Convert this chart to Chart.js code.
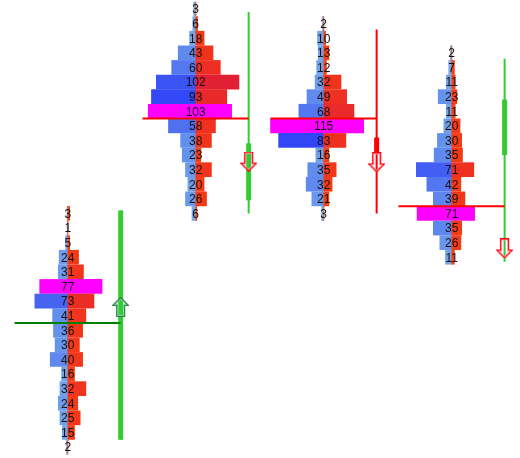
<!DOCTYPE html>
<html>
<head>
<meta charset="utf-8">
<script src="https://cdn.jsdelivr.net/npm/chart.js@4.4.1/dist/chart.umd.min.js"></script>
<style>
  body { margin: 0; background: #fff; }
  #wrap { width: 520px; height: 458px; }
</style>
</head>
<body>
<div id="wrap"><canvas id="profile" width="520" height="458"></canvas></div>
<script>
// price of the first (top) row of every cluster, one row = 1 price step
const topPrice = [46, 60, 59, 57];

// total volume per row (the printed numbers), top row first
const totals = [
  [3, 1, 5, 24, 31, 77, 73, 41, 36, 30, 40, 16, 32, 24, 25, 15, 2],
  [3, 6, 18, 43, 60, 102, 93, 103, 58, 38, 23, 32, 20, 26, 6],
  [2, 10, 13, 12, 32, 49, 68, 115, 83, 16, 35, 32, 21, 3],
  [2, 7, 11, 23, 11, 20, 30, 35, 71, 42, 39, 71, 35, 26, 11]
];

// bid part of each row (blue, left side); ask = total - bid
const bids = [
  [0, 0, 2, 10, 11, 34, 40, 18, 17, 15, 21, 7, 9, 11, 9, 6, 1],
  [2, 3, 7, 21, 29, 48, 54, 58, 33, 18, 16, 12, 9, 12, 4],
  [1, 7, 6, 8, 10, 20, 30, 65, 55, 9, 19, 21, 14, 2],
  [1, 3, 6, 16, 6, 9, 17, 21, 43, 30, 22, 42, 22, 14, 7]
];

// point of control row (magenta)
const pocRow = [5, 7, 7, 11];

// horizontal level line per cluster
const levelPrice = [38.5, 52.5, 52.5, 46.5];

// candles
const candleOpen = [30.5, 46.9, 51.2, 50.0];
const candleHigh = [46.2, 59.8, 58.6, 56.6];
const candleLow = [30.5, 46.0, 46.0, 42.7];
const candleClose = [46.2, 50.8, 50.1, 53.8];

// arrows
const arrowPrice = [39.6, 49.55, 49.5, 43.6];
const arrowDir = ["up", "down", "down", "down"];

//layout in x units (1 unit = 1 contract of width)
const STEP = 158;
const CANDLE_OFF = 66;
const LEVEL_START = -65;

//colours
function lerp(a, b, t) {
  return "rgb(" + a.map((v, i) => Math.round(v + (b[i] - v) * t)).join(",") + ")";
}
let maxBid = 0, maxAsk = 0;
totals.forEach((rows, c) => rows.forEach((t, r) => {
  if (r === pocRow[c]) return;
  maxBid = Math.max(maxBid, bids[c][r]);
  maxAsk = Math.max(maxAsk, t - bids[c][r]);
}));
const blueOf = (v) => lerp([122, 178, 232], [50, 70, 246], Math.min(1, v / maxBid));
const redOf = (v) => lerp([250, 66, 12], [226, 32, 52], Math.min(1, v / maxAsk));

//bars
const bidData = [], askData = [], bidColors = [], askColors = [];
totals.forEach((rows, c) => {
  const cx = c * STEP;
  rows.forEach((t, r) => {
    const price = topPrice[c] - r;
    const b = bids[c][r];
    const a = t - b;
    bidData.push({ y: price, x: [cx - b, cx] });
    askData.push({ y: price, x: [cx, cx + a] });
    const poc = r === pocRow[c];
    bidColors.push(poc ? "#ff00ff" : blueOf(b));
    askColors.push(poc ? "#ff00ff" : redOf(a));
  });
});

//arrow images
function makeArrow(dir, outer, inner) {
  const cv = document.createElement("canvas");
  cv.width = 17;
  cv.height = 20;
  const g = cv.getContext("2d");
  const pts = [[4.5, 0.5], [12.5, 0.5], [12.5, 11.5], [16.5, 11.5], [8.5, 19.5], [0.5, 11.5], [4.5, 11.5]];
  g.beginPath();
  pts.forEach(([x, y], i) => {
    const yy = dir === "up" ? 20 - y : y;
    if (i === 0) g.moveTo(x, yy); else g.lineTo(x, yy);
  });
  g.closePath();
  g.save();
  g.clip();
  g.strokeStyle = inner;
  g.lineWidth = 3;
  g.stroke();
  g.restore();
  g.strokeStyle = outer;
  g.lineWidth = 1.2;
  g.stroke();
  return cv;
}
const upArrow = makeArrow("up", "#2e7d32", "#7fd3c4");
const downArrow = makeArrow("down", "#ff0000", "#ff9ec4");

const datasets = [
  {
    type: "bar", indexAxis: "y", data: bidData, backgroundColor: bidColors,
    grouped: false, barThickness: 14, borderWidth: 0, order: 4
  },
  {
    type: "bar", indexAxis: "y", data: askData, backgroundColor: askColors,
    grouped: false, barThickness: 14, borderWidth: 0, order: 4
  }
];

topPrice.forEach((p, c) => {
  const cx = c * STEP + CANDLE_OFF;
  const up = candleClose[c] >= candleOpen[c];
  const col = up ? "#32cd32" : "#ff0000";
  // wick
  datasets.push({
    type: "line", data: [{ x: cx, y: candleHigh[c] }, { x: cx, y: candleLow[c] }],
    borderColor: col, borderWidth: 2, pointRadius: 0, order: 3
  });
  // body
  datasets.push({
    type: "line", data: [{ x: cx, y: candleOpen[c] }, { x: cx, y: candleClose[c] }],
    borderColor: col, borderWidth: 5, pointRadius: 0, order: 3
  });
  // level line
  datasets.push({
    type: "line",
    data: [{ x: c * STEP + LEVEL_START, y: levelPrice[c] }, { x: cx, y: levelPrice[c] }],
    borderColor: arrowDir[c] === "up" ? "#008000" : "#ff0000",
    borderWidth: 2, pointRadius: 0, order: 2
  });
  // arrow
  datasets.push({
    type: "line", showLine: false, data: [{ x: cx, y: arrowPrice[c] }],
    pointStyle: arrowDir[c] === "up" ? upArrow : downArrow, order: 1
  });
});

//numbers on rows
const rowLabels = {
  id: "rowLabels",
  afterDatasetsDraw(chart) {
    const ctx = chart.ctx;
    const xs = chart.scales.x, ys = chart.scales.y;
    ctx.save();
    ctx.font = '12px "Liberation Sans", Arial, sans-serif';
    ctx.textAlign = "center";
    ctx.textBaseline = "middle";
    ctx.fillStyle = "#111";
    totals.forEach((rows, c) => {
      rows.forEach((t, r) => {
        ctx.fillText(String(t), xs.getPixelForValue(c * STEP) + 0.5, ys.getPixelForValue(topPrice[c] - r) + 1);
      });
    });
    ctx.restore();
  }
};

new Chart(document.getElementById("profile"), {
  data: { datasets: datasets },
  options: {
    responsive: false,
    animation: false,
    layout: { padding: 0, autoPadding: false },
    scales: {
      x: { type: "linear", min: -83, max: 559, offset: false, display: false },
      y: { type: "linear", min: 29.25, max: 60.62, offset: false, display: false }
    },
    plugins: { legend: { display: false }, tooltip: { enabled: false } }
  },
  plugins: [rowLabels]
});
</script>
</body>
</html>
